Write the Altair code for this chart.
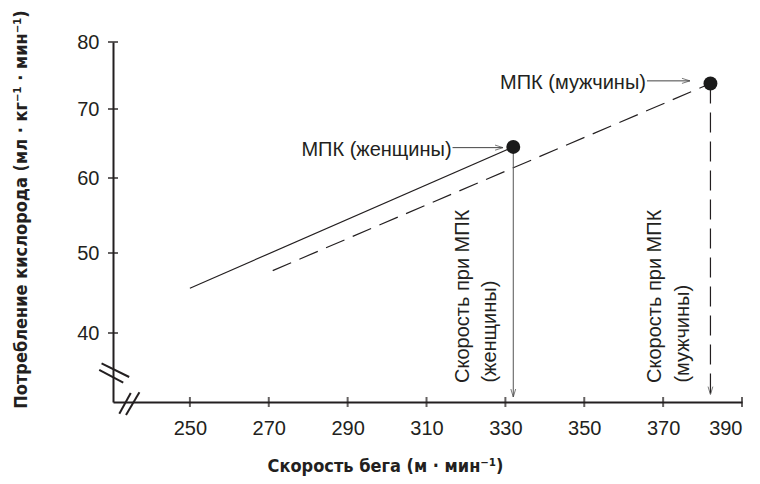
import altair as alt
import pandas as pd

# ---- axis ticks ----
x_ticks = [250, 270, 290, 310, 330, 350, 370, 390]
y_ticks = [40, 50, 60, 70, 80]

# ---- regression lines (speed, VO2) ----
women_x = [250, 332]
women_y = [45.6, 64.5]
men_x = [271, 382]
men_y = [47.8, 73.8]

# ---- VO2max points ----
vo2_group = ["женщины", "мужчины"]
vo2_speed = [332, 382]
vo2_value = [64.5, 73.8]
arrow_tip_y = [32.0, 32.3]

# ---- labels with arrows ----
label_text = ["МПК (женщины)", "МПК (мужчины)"]
label_arrow_x0 = [316.6, 365.9]
label_arrow_x1 = [329.4, 376.8]
label_arrow_y = [64.4, 74.2]

# ---- rotated speed labels ----
speed_text = ["Скорость при МПК", "(женщины)", "Скорость при МПК", "(мужчины)"]
speed_x = [319.3, 326.1, 368.0, 375.1]
speed_y = [33.75, 33.8, 33.75, 33.8]

# ---- axis break marks ----
brk_x1 = [227.6, 227.0, 232.1, 233.8]
brk_y1 = [36.2, 35.4, 29.9, 29.75]
brk_x2 = [234.6, 233.1, 235.0, 237.2]
brk_y2 = [34.5, 33.8, 32.5, 32.6]

INK = "#231f20"
FONT = "Liberation Sans, Arial, sans-serif"
TFONT = "Liberation Sans Narrow, Arial Narrow, DejaVu Sans Condensed, sans-serif"

x_scale = alt.Scale(domain=[230.5, 390], nice=False, zero=False)
y_scale = alt.Scale(domain=[31.375, 40, 50, 60, 70, 80],
                    range=[360, 291, 211, 136, 67, 0], nice=False, zero=False)

x_axis = alt.Axis(values=x_ticks, ticks=False, grid=False, domainColor=INK, domainWidth=2,
                  labelFont=FONT, labelFontSize=20, labelColor=INK, labelPadding=16,
                  title="Скорость бега (м · мин⁻¹)", titleFont=TFONT, titleFontSize=18,
                  titleFontWeight="bold", titleColor=INK, titleX=272, titleY=69,
                  titleAlign="center", titleBaseline="alphabetic")
y_axis = alt.Axis(values=y_ticks, ticks=False, grid=False, domainColor=INK, domainWidth=2,
                  labelFont=FONT, labelFontSize=20, labelColor=INK, labelPadding=14,
                  title="Потребление кислорода (мл · кг⁻¹ · мин⁻¹)", titleFont=TFONT,
                  titleFontSize=18, titleFontWeight="bold", titleColor=INK,
                  titleAngle=270, titleX=-92, titleY=167, titleAlign="center",
                  titleBaseline="middle")

lines_df = pd.DataFrame({
    "speed": women_x + men_x,
    "vo2": women_y + men_y,
    "group": ["женщины"] * 2 + ["мужчины"] * 2,
})

base_axes = alt.Chart(pd.DataFrame({"x": [x_ticks[0]], "y": [y_ticks[0]]})).mark_point(opacity=0).encode(
    x=alt.X("x:Q", scale=x_scale, axis=x_axis),
    y=alt.Y("y:Q", scale=y_scale, axis=y_axis),
)

xt = alt.Chart(pd.DataFrame({"x": x_ticks})).mark_tick(
    orient="vertical", size=10, thickness=2, color=INK).encode(
    x=alt.X("x:Q", scale=x_scale), y=alt.value(360))
yt = alt.Chart(pd.DataFrame({"y": y_ticks})).mark_tick(
    orient="horizontal", size=10, thickness=2, color=INK).encode(
    y=alt.Y("y:Q", scale=y_scale), x=alt.value(0))

women_line = alt.Chart(lines_df[lines_df.group == "женщины"]).mark_line(
    color=INK, strokeWidth=1.2).encode(
    x=alt.X("speed:Q", scale=x_scale), y=alt.Y("vo2:Q", scale=y_scale))
men_line = alt.Chart(lines_df[lines_df.group == "мужчины"]).mark_line(
    color=INK, strokeWidth=1.2, strokeDash=[20, 9]).encode(
    x=alt.X("speed:Q", scale=x_scale), y=alt.Y("vo2:Q", scale=y_scale))

pts_df = pd.DataFrame({"group": vo2_group, "speed": vo2_speed, "vo2": vo2_value, "tip": arrow_tip_y})

drop_w = alt.Chart(pts_df[pts_df.group == "женщины"]).mark_rule(
    color="#555555", strokeWidth=1).encode(
    x=alt.X("speed:Q", scale=x_scale), y=alt.Y("vo2:Q", scale=y_scale), y2="tip:Q")
drop_m = alt.Chart(pts_df[pts_df.group == "мужчины"]).mark_rule(
    color=INK, strokeWidth=1.2, strokeDash=[20, 9]).encode(
    x=alt.X("speed:Q", scale=x_scale), y=alt.Y("vo2:Q", scale=y_scale), y2="tip:Q")
down_heads = alt.Chart(pts_df).mark_point(
    shape="M -0.3 -1 L 0 0 L 0.3 -1", filled=False, size=256, strokeWidth=1, color="#444444").encode(
    x=alt.X("speed:Q", scale=x_scale), y=alt.Y("tip:Q", scale=y_scale))

dots = alt.Chart(pts_df).mark_circle(size=194, color="#1a1a1a", opacity=1).encode(
    x=alt.X("speed:Q", scale=x_scale), y=alt.Y("vo2:Q", scale=y_scale))

lab_df = pd.DataFrame({"text": label_text, "x0": label_arrow_x0, "x1": label_arrow_x1, "y": label_arrow_y})
lab_arrows = alt.Chart(lab_df).mark_rule(color="#444444", strokeWidth=1).encode(
    x=alt.X("x0:Q", scale=x_scale), x2="x1:Q", y=alt.Y("y:Q", scale=y_scale))
lab_heads = alt.Chart(lab_df).mark_point(
    shape="M -1 -0.32 L 0 0 L -1 0.32", filled=False, size=256, strokeWidth=1, color="#444444").encode(
    x=alt.X("x1:Q", scale=x_scale), y=alt.Y("y:Q", scale=y_scale))
lab_text = alt.Chart(lab_df).mark_text(
    align="right", baseline="middle", dx=-1, dy=2, font=FONT, fontSize=20, color=INK).encode(
    x=alt.X("x0:Q", scale=x_scale), y=alt.Y("y:Q", scale=y_scale), text="text:N")

sp_df = pd.DataFrame({"text": speed_text, "x": speed_x, "y": speed_y})
sp_text = alt.Chart(sp_df).mark_text(
    angle=270, align="left", baseline="middle", font=FONT, fontSize=20, color=INK).encode(
    x=alt.X("x:Q", scale=x_scale), y=alt.Y("y:Q", scale=y_scale), text="text:N")

brk_df = pd.DataFrame({"x1": brk_x1, "y1": brk_y1, "x2": brk_x2, "y2": brk_y2})
breaks = alt.Chart(brk_df).mark_rule(color=INK, strokeWidth=2).encode(
    x=alt.X("x1:Q", scale=x_scale), y=alt.Y("y1:Q", scale=y_scale), x2="x2:Q", y2="y2:Q")

chart = alt.layer(
    base_axes, xt, yt, breaks, women_line, men_line, drop_w, drop_m, down_heads,
    lab_arrows, lab_heads, dots, lab_text, sp_text
).properties(
    width=629, height=360,
    background="white",
    autosize=alt.AutoSizeParams(type="none"),
    padding={"left": 105, "top": 34, "right": 10, "bottom": 74},
).configure_view(strokeWidth=0, stroke="transparent")

chart.save("out.html", embed_options={"renderer": "svg", "actions": False})
